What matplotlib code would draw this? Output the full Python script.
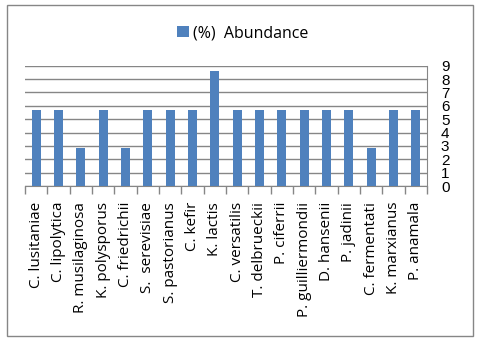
import matplotlib.pyplot as plt
from matplotlib.patches import Rectangle
import numpy as np

plt.rcParams['font.family'] = ['Open Sans', 'DejaVu Sans']

# data
species = ['C. lusitaniae', 'C. lipolytica', 'R. musilaginosa', 'K. polysporus',
           'C. friedrichii', 'S.  serevisiae', 'S. pastorianus', 'C. kefir',
           'K. lactis', 'C. versatilis', 'T. delbrueckii', 'P. ciferrii',
           'P. guilliermondii', 'D. hansenii', 'P. jadinii', 'C. fermentati',
           'K. marxianus', 'P. anamala']
abundance = [5.71, 5.71, 2.86, 5.71, 2.86, 5.71, 5.71, 5.71, 8.57,
             5.71, 5.71, 5.71, 5.71, 5.71, 5.71, 2.86, 5.71, 5.71]
yticks = list(range(0, 10))

BAR = '#4F81BD'
GRID = '#868686'

W, H = 480, 343
fig = plt.figure(figsize=(W / 100, H / 100), dpi=100)
fig.patch.set_facecolor('white')

# outer chart border
fig.add_artist(Rectangle((7 / W, 1 - 336 / H), 466 / W, 331 / H,
                         transform=fig.transFigure, facecolor='none',
                         edgecolor=GRID, linewidth=1))

ax = fig.add_axes([25 / W, 1 - 186 / H, 402 / W, 120.3 / H])
x = np.arange(len(species))
ax.bar(x, abundance, width=0.4, color=BAR, zorder=3, label='(%)  Abundance')

ax.set_xlim(-0.5, len(species) - 0.5)
ax.set_ylim(0, 9)
ax.set_yticks(yticks)
ax.yaxis.tick_right()
ax.tick_params(axis='y', length=0, pad=10, labelsize=11, labelcolor='black')
for lab in ax.get_yticklabels():
    lab.set_family(['Liberation Sans', 'DejaVu Sans'])
ax.grid(axis='y', color=GRID, linewidth=1, zorder=0)

# category boundaries as bottom ticks
ax.set_xticks(np.arange(-0.5, len(species)), minor=True)
ax.tick_params(axis='x', which='minor', length=6, color=GRID, width=1)
ax.set_xticks(x)
ax.set_xticklabels(species, rotation=90, fontsize=11)
ax.tick_params(axis='x', which='major', length=0, pad=11.5)

for s in ['top', 'left']:
    ax.spines[s].set_visible(False)
ax.spines['bottom'].set_color(GRID)
ax.spines['right'].set_color(GRID)

fig.legend(loc='center', bbox_to_anchor=(243 / W, 1 - 33 / H), frameon=False,
           fontsize=11.5, handlelength=0.7, handleheight=0.7, handletextpad=0.3)

plt.savefig('out.png', dpi=100, facecolor='white')
plt.close(fig)
